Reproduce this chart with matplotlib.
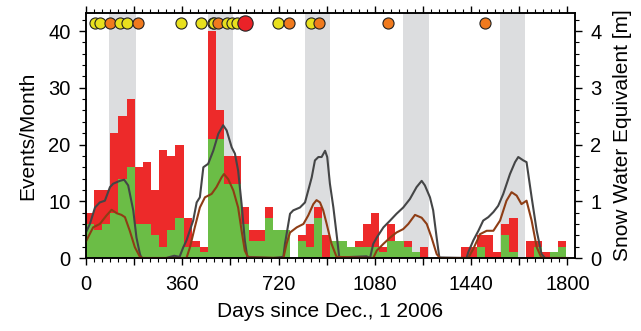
import numpy as np
import matplotlib
matplotlib.use("Agg")
import matplotlib.pyplot as plt
from matplotlib.ticker import MultipleLocator, FuncFormatter

plt.rcParams['font.family'] = ['Liberation Sans', 'DejaVu Sans']

# monthly event counts (all events = red, subset = green)
month_len = 30.44
red_counts = [8, 12, 12, 22, 25, 28, 16, 17, 12, 19,
              18, 20, 7, 3, 2, 40, 26, 18, 18, 9,
              5, 5, 9, 5, 5, 0, 4, 6, 9, 4,
              3, 3, 2, 3, 6, 8, 2, 6, 3, 3,
              1, 2, 0, 0, 0, 0, 2, 2, 4, 4,
              1, 6, 7, 0, 3, 3, 1, 1, 3]
green_counts = [6, 5, 6, 8, 14, 16, 6, 6, 4, 2,
                5, 7, 2, 2, 1, 21, 21, 13, 13, 6,
                3, 3, 7, 5, 5, 0, 3, 2, 7, 0,
                3, 3, 2, 2, 2, 2, 1, 3, 3, 2,
                1, 0, 0, 0, 0, 0, 0, 0, 2, 0,
                0, 4, 1, 0, 0, 2, 0, 1, 2]

# spring periods (shaded)
band_start = [88, 455, 819, 1184, 1549]
band_end = [186, 549, 914, 1281, 1643]

# snow water equivalent, two stations [m]
swe_dark_days = [0, 15, 34, 52, 71, 90, 102, 127, 143, 158, 177, 189, 202, 208,
                 300, 330, 350, 364, 376, 401, 414, 426, 439, 457, 476, 495, 513,
                 526, 545, 557, 569, 582, 594, 603,
                 700, 738, 744, 763, 775, 800, 819, 831, 844, 856, 869, 881, 894,
                 902, 912, 925, 937, 947,
                 1049, 1062, 1074, 1087, 1112, 1137, 1161, 1186, 1211, 1236, 1255,
                 1267, 1286, 1298, 1311, 1321,
                 1423, 1429, 1448, 1467, 1485, 1504, 1523, 1541, 1560, 1585, 1604,
                 1616, 1635, 1647, 1666, 1685, 1703, 1716, 1800]
swe_dark_vals = [0.45, 0.6, 0.89, 0.98, 1.01, 1.25, 1.31, 1.36, 1.38, 1.28, 0.84, 0.36, 0.07, 0.0,
                 0.0, 0.04, 0.02, 0.19, 0.31, 0.66, 0.98, 1.07, 1.6, 1.66, 1.89, 2.19, 2.34,
                 2.25, 1.95, 1.84, 1.54, 0.95, 0.31, 0.02,
                 0.0, 0.02, 0.25, 0.78, 0.84, 0.89, 0.98, 1.19, 1.42, 1.72, 1.78, 1.78, 1.89,
                 1.78, 1.31, 0.89, 0.42, 0.01,
                 0.03, 0.0, 0.25, 0.36, 0.54, 0.66, 0.78, 0.89, 1.04, 1.25, 1.36,
                 1.28, 1.07, 0.84, 0.36, 0.01,
                 0.0, 0.1, 0.31, 0.48, 0.66, 0.72, 0.81, 0.92, 1.13, 1.48, 1.69,
                 1.78, 1.72, 1.69, 1.07, 0.48, 0.07, 0.0, 0.0]
swe_brown_days = [0, 27, 52, 77, 96, 115, 133, 146, 164, 183, 202, 214,
                  376, 389, 407, 426, 445, 470, 488, 507, 516, 532, 551, 569, 582, 594, 607,
                  738, 750, 763, 788, 813, 831, 850, 862, 875, 887, 900, 918, 937,
                  1074, 1087, 1112, 1137, 1161, 1186, 1205, 1230, 1255, 1274, 1292, 1311, 1323,
                  1429, 1448, 1473, 1498, 1523, 1548, 1572, 1591, 1610, 1628, 1647, 1666,
                  1685, 1703, 1800]
swe_brown_vals = [0.29, 0.54, 0.6, 0.75, 0.85, 0.79, 0.76, 0.72, 0.48, 0.19, 0.02, 0.0,
                  0.0, 0.19, 0.54, 0.89, 1.07, 1.13, 1.25, 1.42, 1.48, 1.39, 1.19, 0.89, 0.48, 0.13, 0.01,
                  0.0, 0.25, 0.45, 0.54, 0.6, 0.75, 0.95, 1.02, 0.98, 0.84, 0.6, 0.25, 0.02,
                  0.0, 0.13, 0.25, 0.36, 0.45, 0.51, 0.6, 0.76, 0.71, 0.6, 0.36, 0.07, 0.0,
                  0.0, 0.16, 0.42, 0.48, 0.48, 0.66, 1.01, 1.16, 1.1, 0.95, 1.01, 0.66,
                  0.19, 0.0, 0.0]

# large events at the top
event_days = [34, 52, 90, 127, 152, 196, 355, 430, 475, 480, 495, 526, 547, 563, 594,
              719, 759, 840, 872, 1130, 1492]
event_class = ['y', 'y', 'o', 'y', 'y', 'o', 'y', 'y', 'y', 'y', 'o', 'y', 'y', 'y', 'r',
               'y', 'o', 'y', 'o', 'o', 'o']
class_color = {'y': '#e8e01e', 'o': '#f07a1e', 'r': '#ea2228'}
class_size = {'y': 8, 'o': 8, 'r': 11}

fig = plt.figure(figsize=(6.41, 3.31), dpi=100)
ax = fig.add_axes([0.134, 0.2205, 0.763, 0.7405])
ax2 = ax.twinx()

for s, e in zip(band_start, band_end):
    ax.axvspan(s, e, color='#dcdddf', lw=0, zorder=0)

month_start = np.arange(len(red_counts)) * month_len
ax.bar(month_start, red_counts, width=month_len, align='edge', color='#ed2a2a', lw=0, zorder=1)
ax.bar(month_start, green_counts, width=month_len, align='edge', color='#6bbd46', lw=0, zorder=2)

ax2.plot(swe_dark_days, swe_dark_vals, color='#444546', lw=1.5)
ax2.plot(swe_brown_days, swe_brown_vals, color='#8e3d15', lw=1.5)

for d, c in zip(event_days, event_class):
    ax2.plot(d, 4.14, 'o', ms=class_size[c], mfc=class_color[c], mec='#222222', mew=0.8,
             clip_on=False)

ax.set_xlim(0, 1828)
ax.set_ylim(0, 43.2)
ax2.set_ylim(0, 4.32)

ax.xaxis.set_major_locator(MultipleLocator(180))
ax.xaxis.set_minor_locator(MultipleLocator(30))
ax.xaxis.set_major_formatter(FuncFormatter(lambda v, p: f'{int(v)}' if v % 360 == 0 else ''))
ax.yaxis.set_major_locator(MultipleLocator(10))
ax.yaxis.set_minor_locator(MultipleLocator(2))
ax2.yaxis.set_major_locator(MultipleLocator(1))
ax2.yaxis.set_minor_locator(MultipleLocator(0.2))

for a in (ax, ax2):
    a.tick_params(which='major', direction='out', length=5, width=1, labelsize=14.5, pad=6)
    a.tick_params(which='minor', direction='out', length=3, width=0.8)
    for sp in a.spines.values():
        sp.set_linewidth(1.1)
ax.tick_params(which='both', top=True)
ax.tick_params(axis='x', pad=7)

ax.set_xlabel('Days since Dec., 1 2006', fontsize=15, labelpad=6)
ax.set_ylabel('Events/Month', fontsize=15, labelpad=8)
ax2.set_ylabel('Snow Water Equivalent [m]', fontsize=15, labelpad=8)

fig.savefig('out.png', dpi=100)
